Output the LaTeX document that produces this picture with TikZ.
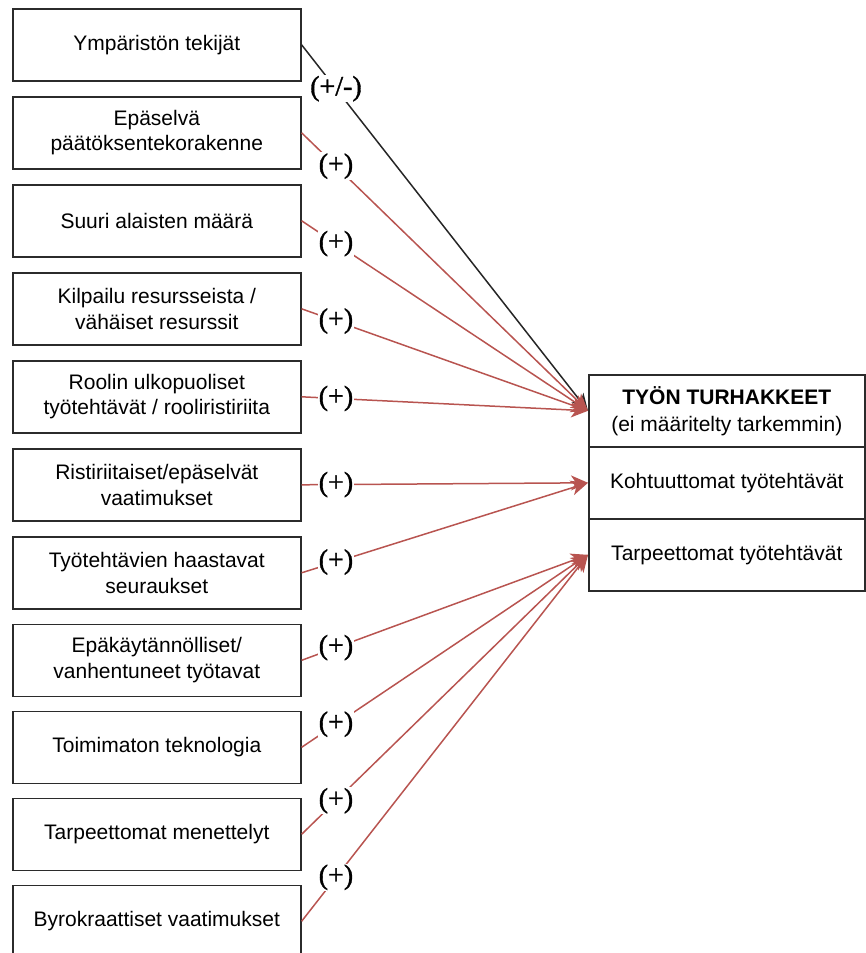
\documentclass[tikz,border=0pt]{standalone}
\usepackage{fontspec}
\setmainfont{Liberation Sans}
\newfontfamily\signfont[FakeBold=1.2]{Liberation Serif}
\usetikzlibrary{arrows.meta}
\definecolor{linkred}{HTML}{B85450}
\definecolor{framegray}{HTML}{2B2B2B}
\tikzset{
  causebox/.style={draw=framegray, line width=1.6pt, fill=white, minimum width=288pt,
    minimum height=72pt, inner sep=0pt, align=center, anchor=north west,
    font=\fontsize{21}{25.5}\selectfont},
  effectpart/.style={draw=framegray, line width=1.6pt, fill=white, minimum width=276pt,
    minimum height=72pt, inner sep=0pt, align=center, anchor=north west,
    font=\fontsize{21}{27}\selectfont},
  link/.style={draw=linkred, line width=1.5pt,
    -{Stealth[length=17pt,width=15pt,inset=5pt]}},
  darklink/.style={draw=black!85, line width=1.5pt,
    -{Stealth[length=17pt,width=15pt,inset=5pt,fill=linkred]}},
  sign/.style={fill=white, inner sep=1pt, pos=0.12,
    font=\signfont\fontsize{28}{28}\selectfont, text=black},
}
\begin{document}
\begin{tikzpicture}[x=1pt, y=-1pt]
  \useasboundingbox (0,0) rectangle (865,953);

  % causes (left column)
  \node[causebox] (c1)  at (12,8)     {Ympäristön tekijät};
  \node[causebox] (c2)  at (12,96)    {Epäselvä\\päätöksentekorakenne};
  \node[causebox] (c3)  at (12,184)   {Suuri alaisten määrä};
  \node[causebox] (c4)  at (12,272)   {Kilpailu resursseista /\\vähäiset resurssit};
  \node[causebox] (c5)  at (12,360)   {Roolin ulkopuoliset\\työtehtävät / rooliristiriita};
  \node[causebox] (c6)  at (12,448)   {Ristiriitaiset/epäselvät\\vaatimukset};
  \node[causebox] (c7)  at (12,536)   {Työtehtävien haastavat\\seuraukset};
  \node[causebox] (c8)  at (12,623.5) {Epäkäytännölliset/\\vanhentuneet työtavat};
  \node[causebox] (c9)  at (12,710.5) {Toimimaton teknologia};
  \node[causebox] (c10) at (12,797.5) {Tarpeettomat menettelyt};
  \node[causebox] (c11) at (12,884.5) {Byrokraattiset vaatimukset};

  % effect (right box with three parts)
  \node[effectpart] (e1) at (588,374) {\textbf{TYÖN TURHAKKEET}\\(ei määritelty tarkemmin)};
  \node[effectpart] (e2) at (588,446) {Kohtuuttomat työtehtävät};
  \node[effectpart] (e3) at (588,518) {Tarpeettomat työtehtävät};

  % links
  \draw[darklink] (c1.east) -- node[sign] {(+/-)} (e1.west);
  \foreach \c in {c2,c3,c4,c5}
    \draw[link] (\c.east) -- node[sign] {(+)} (e1.west);
  \foreach \c in {c6,c7}
    \draw[link] (\c.east) -- node[sign] {(+)} (e2.west);
  \foreach \c in {c8,c9,c10,c11}
    \draw[link] (\c.east) -- node[sign] {(+)} (e3.west);
\end{tikzpicture}
\end{document}
